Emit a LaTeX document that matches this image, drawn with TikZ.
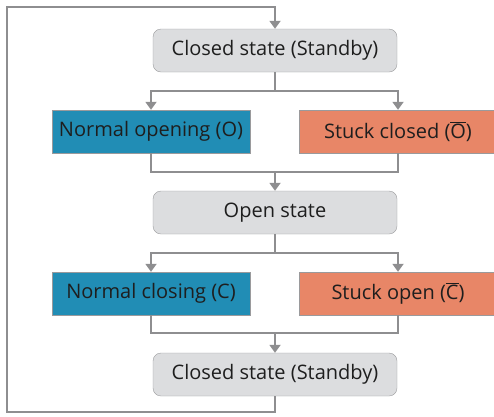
\documentclass[tikz,border=0pt]{standalone}
\usepackage{fontspec}
\setmainfont{Open Sans}
\usetikzlibrary{arrows.meta}
\definecolor{boxgray}{HTML}{DCDDDF}
\definecolor{edgegray}{HTML}{9A9A9C}
\definecolor{linegray}{HTML}{8E8E90}
\definecolor{openblue}{HTML}{218DB5}
\definecolor{stuckorange}{HTML}{E88667}
\definecolor{txtdark}{HTML}{1E1E1E}
\newcommand{\negbar}[1]{$\overline{\mbox{#1}}$}

\begin{document}
\begin{tikzpicture}[x=1pt, y=-1pt,
    every node/.style={text=txtdark, font=\fontsize{20}{24}\selectfont, inner sep=0pt},
    state/.style={draw=edgegray, fill=boxgray, rounded corners=8pt, minimum width=244pt, minimum height=43pt},
    normal/.style={draw=edgegray, fill=openblue, minimum width=198pt, minimum height=43pt},
    stuck/.style={draw=edgegray, fill=stuckorange, minimum width=198pt, minimum height=43pt},
    flow/.style={draw=linegray, line width=1.8pt},
    tip/.style={-{Triangle[width=11pt, length=8pt]}}]
    \useasboundingbox (0,0) rectangle (494,416);

    \node[state] (C1) at (275,50.5) {Closed state (Standby)};
    \node[normal] (NO) at (151,131.5) {Normal opening (O)};
    \node[stuck] (SC) at (398,131.5) {Stuck closed (\negbar{O})};
    \node[state] (OP) at (275,212.5) {Open state};
    \node[normal] (NC) at (151,293.5) {Normal closing (C)};
    \node[stuck] (SO) at (398,293.5) {Stuck open (\negbar{C})};
    \node[state] (C2) at (275,374.5) {Closed state (Standby)};

    \coordinate (J1) at (275,91);
    \coordinate (J2) at (275,172);
    \coordinate (J3) at (275,253);
    \coordinate (J4) at (275,333);
    \coordinate (LB) at (7,412);
    \coordinate (LT) at (7,7);

    \draw[flow] (C1) -- (J1);
    \draw[flow, tip] (J1) -| (NO.north);
    \draw[flow, tip] (J1) -| (SC.north);
    \draw[flow] (NO.south) |- (J2) -| (SC.south);
    \draw[flow, tip] (J2) -- (OP);
    \draw[flow] (OP) -- (J3);
    \draw[flow, tip] (J3) -| (NC.north);
    \draw[flow, tip] (J3) -| (SO.north);
    \draw[flow] (NC.south) |- (J4) -| (SO.south);
    \draw[flow, tip] (J4) -- (C2);
    \draw[flow, tip] (C2.south) |- (LB) -- (LT) -| (C1.north);
\end{tikzpicture}
\end{document}
